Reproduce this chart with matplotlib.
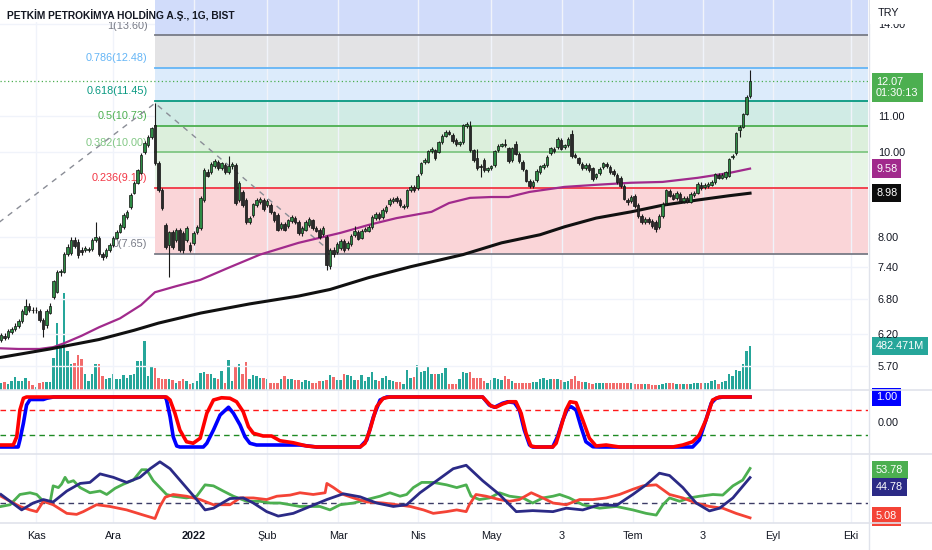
import numpy as np
import matplotlib
matplotlib.use('Agg')
import matplotlib.pyplot as plt
from matplotlib import font_manager
from matplotlib.lines import Line2D
from matplotlib.patches import Rectangle
from matplotlib.ticker import NullLocator, NullFormatter

# font: narrow sans if present, else Liberation Sans scaled down
names = {f.name for f in font_manager.fontManager.ttflist}
if 'Liberation Sans Narrow' in names:
    FONT, K = 'Liberation Sans Narrow', 1.0
else:
    FONT, K = 'Liberation Sans', 0.82
plt.rcParams['font.family'] = [FONT, 'DejaVu Sans']

# ---- daily candles (bar index 0 .. 214) ----
opens = [6.11, 6.17, 6.15, 6.24, 6.28, 6.33, 6.41, 6.54, 6.68, 6.61,
         6.60, 6.58, 6.44, 6.34, 6.56, 6.84, 6.93, 7.29, 7.30, 7.66,
         7.68, 7.94, 7.90, 7.74, 7.74, 7.74, 7.76, 7.94, 7.99, 7.66,
         7.62, 7.74, 7.84, 7.99, 8.11, 8.22, 8.44, 8.66, 8.99, 9.23,
         9.47, 10.01, 10.19, 10.41, 10.74, 9.72, 9.05, 8.26, 7.84, 8.11,
         7.94, 8.16, 8.09, 7.94, 7.84, 7.88, 8.11, 8.20, 8.82, 9.49,
         9.49, 9.64, 9.75, 9.59, 9.67, 9.49, 9.64, 9.67, 8.82, 9.01,
         8.82, 8.33, 8.48, 8.70, 8.78, 8.82, 8.70, 8.70, 8.55, 8.48,
         8.20, 8.28, 8.24, 8.35, 8.41, 8.33, 8.09, 8.16, 8.26, 8.37,
         8.20, 8.16, 8.07, 8.01, 7.42, 7.74, 7.70, 7.78, 7.92, 7.78,
         7.86, 8.05, 8.11, 7.99, 8.14, 8.14, 8.22, 8.41, 8.50, 8.44,
         8.57, 8.73, 8.80, 8.87, 8.82, 8.66, 8.68, 9.05, 9.13, 9.10,
         9.47, 9.75, 9.75, 10.03, 10.06, 10.01, 10.27, 10.44, 10.55, 10.47,
         10.33, 10.22, 10.27, 10.71, 10.71, 10.06, 9.85, 9.64, 9.80, 9.54,
         9.59, 9.67, 10.06, 10.17, 10.22, 10.11, 9.80, 10.22, 9.96, 9.75,
         9.54, 9.28, 9.15, 9.30, 9.49, 9.62, 9.67, 9.98, 10.09, 10.14,
         10.33, 10.14, 10.19, 10.50, 9.93, 9.85, 9.70, 9.59, 9.67, 9.59,
         9.37, 9.47, 9.62, 9.70, 9.62, 9.52, 9.42, 9.35, 9.15, 8.82,
         8.80, 8.92, 8.70, 8.46, 8.33, 8.39, 8.35, 8.33, 8.22, 8.46,
         8.75, 9.03, 8.94, 8.87, 8.96, 8.80, 8.87, 8.78, 8.94, 8.99,
         9.18, 9.13, 9.15, 9.18, 9.25, 9.42, 9.35, 9.37, 9.40, 9.88,
         9.98, 10.60, 10.69, 11.06, 11.59]
highs = [6.22, 6.22, 6.28, 6.32, 6.38, 6.45, 6.62, 6.79, 6.72, 6.66,
         6.66, 6.62, 6.47, 6.62, 6.72, 7.15, 7.33, 7.36, 7.70, 7.86,
         8.00, 8.01, 7.95, 7.80, 7.82, 7.80, 7.98, 8.33, 8.02, 7.70,
         7.78, 7.88, 8.02, 8.15, 8.30, 8.52, 8.60, 8.98, 9.28, 9.58,
         9.98, 10.30, 10.46, 10.70, 11.38, 9.78, 9.10, 8.30, 8.14, 8.16,
         8.20, 8.20, 8.14, 8.24, 7.90, 8.12, 8.26, 8.92, 9.60, 9.56,
         9.75, 9.82, 9.80, 9.76, 9.72, 9.90, 9.74, 9.72, 9.28, 9.05,
         8.86, 8.46, 8.76, 8.86, 8.90, 8.86, 8.84, 8.74, 8.58, 8.52,
         8.32, 8.32, 8.40, 8.48, 8.45, 8.36, 8.24, 8.36, 8.43, 8.40,
         8.24, 8.20, 8.24, 8.05, 7.78, 7.80, 7.90, 7.96, 7.96, 7.92,
         8.06, 8.24, 8.15, 8.18, 8.22, 8.26, 8.48, 8.54, 8.54, 8.63,
         8.70, 8.86, 8.90, 8.91, 8.86, 8.72, 9.08, 9.17, 9.17, 9.44,
         9.76, 9.84, 10.07, 10.13, 10.10, 10.31, 10.48, 10.60, 10.60, 10.52,
         10.37, 10.31, 10.78, 10.82, 10.85, 10.10, 10.10, 9.70, 9.84, 9.63,
         9.68, 10.07, 10.21, 10.26, 10.36, 10.15, 10.15, 10.30, 10.00, 9.79,
         9.58, 9.32, 9.29, 9.56, 9.68, 9.71, 9.92, 10.15, 10.13, 10.40,
         10.37, 10.23, 10.40, 10.60, 9.97, 9.89, 9.74, 9.71, 9.71, 9.63,
         9.48, 9.61, 9.76, 9.74, 9.66, 9.56, 9.46, 9.39, 9.19, 8.86,
         8.93, 8.96, 8.74, 8.50, 8.43, 8.43, 8.39, 8.37, 8.50, 8.77,
         9.09, 9.07, 8.98, 9.03, 9.00, 8.91, 8.91, 9.00, 9.03, 9.24,
         9.24, 9.22, 9.24, 9.29, 9.48, 9.46, 9.46, 9.53, 9.86, 9.96,
         10.56, 10.74, 11.10, 11.62, 12.41]
lows = [6.07, 6.10, 6.12, 6.20, 6.25, 6.30, 6.38, 6.52, 6.57, 6.55,
        6.55, 6.40, 6.15, 6.30, 6.53, 6.80, 6.90, 7.22, 7.28, 7.62,
        7.64, 7.78, 7.58, 7.64, 7.70, 7.70, 7.72, 7.90, 7.62, 7.54,
        7.58, 7.70, 7.80, 7.96, 8.08, 8.18, 8.40, 8.62, 8.95, 9.20,
        9.44, 9.96, 10.15, 10.36, 9.68, 9.00, 8.60, 7.76, 7.21, 7.76,
        7.90, 7.70, 7.68, 7.90, 7.70, 7.84, 8.06, 8.16, 8.78, 9.36,
        9.44, 9.60, 9.55, 9.55, 9.45, 9.45, 9.58, 8.70, 8.78, 8.66,
        8.29, 8.28, 8.44, 8.66, 8.72, 8.57, 8.65, 8.50, 8.33, 8.12,
        8.16, 8.12, 8.20, 8.31, 8.29, 8.05, 8.02, 8.12, 8.22, 8.16,
        8.10, 7.97, 8.03, 7.34, 7.36, 7.60, 7.66, 7.74, 7.70, 7.74,
        7.82, 8.01, 7.93, 7.95, 8.10, 8.10, 8.18, 8.37, 8.37, 8.40,
        8.53, 8.69, 8.76, 8.76, 8.66, 8.62, 8.64, 9.01, 9.01, 9.06,
        9.43, 9.70, 9.71, 9.99, 9.81, 9.97, 10.23, 10.40, 10.46, 10.26,
        10.18, 10.18, 10.23, 10.67, 10.02, 9.76, 9.55, 9.37, 9.50, 9.50,
        9.55, 9.63, 10.02, 10.13, 10.15, 9.73, 9.76, 9.92, 9.73, 9.53,
        9.24, 9.11, 9.10, 9.26, 9.45, 9.57, 9.63, 9.94, 9.99, 10.10,
        10.05, 10.10, 10.15, 9.86, 9.84, 9.68, 9.55, 9.55, 9.50, 9.28,
        9.33, 9.43, 9.58, 9.60, 9.45, 9.40, 9.21, 9.11, 8.81, 8.70,
        8.76, 8.64, 8.42, 8.29, 8.29, 8.29, 8.20, 8.11, 8.18, 8.42,
        8.71, 8.88, 8.81, 8.83, 8.76, 8.76, 8.74, 8.74, 8.90, 8.95,
        9.06, 9.09, 9.11, 9.14, 9.21, 9.31, 9.31, 9.33, 9.36, 9.82,
        9.94, 10.41, 10.65, 11.02, 11.55]
closes = [6.18, 6.13, 6.25, 6.28, 6.33, 6.41, 6.58, 6.68, 6.61, 6.60,
          6.61, 6.44, 6.28, 6.58, 6.68, 7.12, 7.30, 7.32, 7.66, 7.80,
          7.94, 7.82, 7.64, 7.70, 7.78, 7.76, 7.94, 8.01, 7.66, 7.60,
          7.74, 7.84, 7.99, 8.11, 8.26, 8.48, 8.55, 8.94, 9.23, 9.54,
          9.93, 10.25, 10.41, 10.66, 9.72, 9.05, 8.64, 7.80, 8.11, 7.80,
          8.16, 7.74, 7.74, 8.20, 7.74, 8.09, 8.22, 8.87, 9.54, 9.40,
          9.70, 9.77, 9.59, 9.72, 9.49, 9.64, 9.70, 8.75, 9.23, 8.70,
          8.33, 8.41, 8.73, 8.82, 8.85, 8.61, 8.80, 8.55, 8.37, 8.16,
          8.28, 8.16, 8.37, 8.44, 8.33, 8.09, 8.20, 8.33, 8.39, 8.20,
          8.14, 8.01, 8.20, 7.44, 7.74, 7.66, 7.86, 7.92, 7.74, 7.88,
          8.03, 8.14, 7.97, 8.14, 8.18, 8.22, 8.44, 8.50, 8.41, 8.59,
          8.66, 8.82, 8.85, 8.80, 8.70, 8.68, 9.05, 9.13, 9.05, 9.40,
          9.72, 9.80, 10.03, 10.09, 9.85, 10.27, 10.44, 10.55, 10.50, 10.30,
          10.22, 10.27, 10.74, 10.77, 10.06, 9.80, 9.59, 9.62, 9.54, 9.59,
          9.64, 10.03, 10.17, 10.22, 10.19, 9.77, 10.11, 9.96, 9.77, 9.57,
          9.28, 9.15, 9.25, 9.52, 9.64, 9.67, 9.88, 10.11, 10.03, 10.36,
          10.09, 10.19, 10.36, 9.90, 9.88, 9.72, 9.59, 9.67, 9.54, 9.32,
          9.44, 9.57, 9.72, 9.64, 9.49, 9.44, 9.25, 9.15, 8.85, 8.78,
          8.89, 8.68, 8.46, 8.33, 8.39, 8.33, 8.24, 8.18, 8.46, 8.73,
          9.05, 8.92, 8.85, 8.99, 8.80, 8.87, 8.78, 8.96, 8.99, 9.20,
          9.10, 9.18, 9.20, 9.25, 9.44, 9.35, 9.42, 9.49, 9.82, 9.90,
          10.52, 10.69, 11.06, 11.56, 12.07]
# volume, millions of shares
volume = [77, 88, 66, 99, 143, 99, 99, 132, 99, 55,
          33, 77, 88, 88, 88, 352, 737, 473, 1067, 429,
          286, 297, 385, 341, 176, 99, 176, 286, 286, 154,
          121, 132, 176, 121, 121, 165, 132, 165, 176, 319,
          319, 539, 154, 264, 242, 132, 121, 121, 121, 110,
          77, 99, 121, 99, 66, 77, 99, 187, 198, 176,
          176, 132, 121, 209, 77, 330, 99, 264, 286, 176,
          308, 121, 165, 154, 132, 132, 121, 77, 77, 77,
          121, 154, 121, 121, 110, 110, 88, 110, 99, 77,
          77, 99, 99, 110, 165, 143, 110, 110, 176, 165,
          154, 110, 110, 165, 99, 143, 198, 110, 99, 132,
          154, 110, 99, 88, 88, 66, 220, 132, 143, 275,
          198, 209, 253, 176, 176, 176, 187, 242, 66, 66,
          66, 121, 198, 187, 198, 132, 132, 132, 99, 77,
          110, 132, 121, 110, 154, 121, 99, 77, 77, 77,
          77, 77, 88, 88, 121, 132, 110, 121, 121, 121,
          110, 88, 99, 121, 154, 99, 88, 88, 77, 66,
          77, 77, 77, 77, 77, 77, 77, 77, 77, 77,
          77, 66, 66, 66, 66, 66, 55, 55, 55, 66,
          77, 77, 77, 66, 66, 66, 66, 66, 77, 77,
          77, 77, 77, 99, 110, 66, 88, 99, 176, 154,
          220, 209, 286, 429, 482.471]

# moving averages (read at sample bars)
ma_fast_bar = [0, 5, 11, 15, 18, 23, 28, 34, 40, 44, 50, 57, 65, 74, 85, 97, 105, 113,
               123, 128, 134, 140, 145, 151, 161, 170, 180, 189, 199, 208, 214]
ma_fast = [5.97, 5.96, 5.96, 5.99, 6.05, 6.17, 6.31, 6.46, 6.69, 6.92, 7.03, 7.15, 7.38,
           7.64, 7.88, 8.09, 8.26, 8.41, 8.55, 8.75, 8.87, 8.89, 8.89, 9.01, 9.13, 9.18,
           9.23, 9.25, 9.35, 9.47, 9.58]
ma_slow_bar = [0, 14, 28, 38, 45, 57, 71, 85, 94, 105, 117, 132, 143, 154, 161, 170,
               180, 189, 199, 208, 214]
ma_slow = [5.83, 5.96, 6.11, 6.26, 6.38, 6.55, 6.71, 6.85, 6.97, 7.19, 7.40, 7.64, 7.88,
           8.05, 8.22, 8.41, 8.55, 8.70, 8.82, 8.92, 8.98]

# fibonacci retracement
fib_ratio = ['1', '0.786', '0.618', '0.5', '0.382', '0.236', '0']
fib_price = [13.60, 12.48, 11.45, 10.73, 10.00, 9.10, 7.65]
fib_line_col = ['#787b86', '#64b5f6', '#089981', '#4caf50', '#81c784', '#f23645', '#787b86']
fib_zone_col = ['#e3e3e5', '#dcebfb', '#d0ebe5', '#dcefdc', '#e6f4e5', '#fad5d8']
fib_top_col = '#d1dcfa'
fib_start = 44
fib_path_bar = [-40, 44, 95]
fib_path_price = [6.30, 11.38, 7.65]

# stochastic RSI style oscillator
k_bar = [0, 4.9, 5.4, 6.4, 7.3, 8.3, 12.1, 13.1, 15, 46.9, 47.3, 48.3, 49.2, 50.2, 51.1,
         57.8, 58.8, 60.7, 62.6, 65, 66.4, 68.3, 69.7, 71.1, 73, 85.4, 90.2, 102.6, 104.5,
         106.4, 108.3, 110.2, 137.6, 139.5, 141, 143.3, 144.8, 146.7, 148.1, 149.5, 151,
         151.9, 157.6, 159, 160.5, 161.9, 162.9, 164.3, 165.7, 167.1, 169.1, 171, 197.6,
         199.5, 201.4, 202.9, 204.3, 206.2, 214]
k_val = [-1, -1, -0.72, -0.05, 0.68, 0.9, 0.9, 0.95, 1, 1, 0.88, 0.21, -0.59, -0.96, -1,
         -1, -0.85, -0.32, 0.28, 0.59, 0.35, -0.12, -0.59, -0.85, -0.92, -0.92, -1, -1,
         -0.72, 0.21, 0.88, 1, 1, 0.68, 0.59, 0.75, 0.81, 0.77, 0.48, -0.32, -0.92, -1, -1,
         -0.59, 0.08, 0.55, 0.61, 0.48, -0.19, -0.79, -0.99, -1, -1, -0.72, 0.08, 0.75,
         0.95, 1, 1]
d_bar = [0, 3.5, 4.5, 5.4, 6.4, 7.3, 47.3, 48.3, 49.7, 51.1, 53, 54.9, 56.9, 58.8, 60.7,
         63, 65.4, 67.3, 69.2, 70.7, 72.1, 74.9, 77.3, 79.7, 83.5, 87.3, 90.2, 102.6, 104,
         105.4, 107.3, 109.2, 111.1, 137.6, 140, 141.4, 143.3, 145.2, 147.1, 148.6, 150,
         151.4, 152.9, 157.6, 158.6, 160, 161.4, 162.6, 164.3, 166.2, 168.1, 170, 172.9,
         174.8, 176.7, 191.9, 194.8, 197.6, 199.5, 201.4, 203.3, 205.2, 214]
d_val = [-0.92, -0.92, -0.59, 0.48, 0.95, 1, 1, 0.88, 0.35, -0.32, -0.79, -0.85, -0.65,
         0.35, 0.88, 0.97, 0.95, 0.81, 0.41, -0.19, -0.45, -0.56, -0.56, -0.75, -0.83,
         -0.96, -1, -1, -0.85, -0.32, 0.61, 0.95, 1, 1, 0.64, 0.59, 0.72, 0.81, 0.81, 0.35,
         -0.45, -0.96, -1, -1, -0.85, -0.19, 0.48, 0.81, 0.77, 0.08, -0.65, -0.96, -0.92,
         -0.96, -1, -1, -0.92, -0.79, -0.52, 0.08, 0.88, 1, 1]

# DMI / ADX
pdi_bar = [0, 2.6, 5.4, 8.3, 10.2, 12.1, 14, 14.9, 16.4, 17.3, 18.3, 19.2, 20.7, 22.6,
           25.4, 28.3, 30.2, 32.6, 35, 37.8, 40.2, 41.6, 43.5, 45.4, 47.3, 49.2, 53, 55.9,
           58.3, 60.7, 63.5, 66.4, 70.2, 74, 76.9, 79.7, 82.6, 85.4, 91.1, 94, 96.9, 100.7,
           104.5, 108.3, 111.1, 114, 115.9, 117.8, 120.2, 123.5, 127.3, 130.2, 132.9,
           134.3, 136.7, 139.6, 142.4, 145.3, 149.1, 151.9, 154.8, 157.7, 159.6, 162.4,
           166.2, 171, 175.8, 180.5, 184.3, 187.2, 189.1, 191, 193.9, 196.7, 199.6, 203.4,
           206.2, 209.1, 211.9, 214]
pdi_val = [16.3, 18, 28.1, 29.8, 28.1, 21.4, 19.7, 36.6, 34.9, 38.3, 45, 40, 41.7, 34.9,
           29.8, 31.5, 28.1, 34.2, 38.3, 42.3, 52.5, 52.5, 41.7, 34.9, 28.1, 26.4, 24.7,
           26.4, 37.6, 36.6, 31.5, 26.4, 21.4, 21.4, 19.7, 19.7, 18, 16.3, 16.3, 12.9, 18,
           19.7, 23.1, 26.4, 29.8, 26.4, 28.1, 34.9, 40, 40, 37.6, 34.9, 37.6, 26.4, 23.1,
           24.7, 29.8, 26.4, 24.7, 19.7, 24.7, 26.4, 28.1, 24.7, 18, 14.6, 16.3, 12.9, 9.5,
           7.8, 18, 24.7, 21.4, 24.7, 26.4, 28.1, 27.5, 36.6, 42.3, 53.78]
mdi_bar = [0, 2.6, 5.4, 8.3, 10.2, 12.1, 14.9, 18.8, 21.6, 23.5, 27.3, 31.1, 35.9, 40.7,
           44, 45.4, 46.9, 49.2, 53, 56.9, 60.7, 65.4, 68.3, 72.1, 75.9, 78.8, 82.6, 85.4,
           89.2, 92.6, 93.1, 95, 97.8, 100.7, 104.5, 109.2, 113.1, 116.9, 120.7, 123.5,
           127.3, 130.2, 132.9, 133.8, 135.7, 138.6, 142.4, 145.3, 148.1, 151.5, 154.8,
           157.7, 161.5, 165.3, 169.1, 172.9, 176.7, 180.5, 183.4, 187.2, 191, 194.8,
           198.6, 202.4, 206.2, 210, 214]
mdi_val = [26.4, 21.4, 16.3, 12.9, 11.2, 21.4, 18, 9.5, 8.5, 11.2, 18, 16.3, 12.9, 7.8,
           4.4, 16.3, 25.4, 28.1, 26.4, 23.1, 18, 18, 24.7, 24.7, 23.1, 26.4, 27.5, 29.8,
           28.1, 29.8, 39, 34.9, 28.1, 24.7, 20.7, 19.7, 18, 16.3, 12.9, 9.5, 11.2, 12.9,
           11.2, 18, 28.1, 26.4, 23.1, 21.4, 23.1, 29.8, 24.7, 19.7, 18, 23.1, 23.1, 24.7,
           28.1, 33.2, 36.6, 37.6, 28.1, 24.7, 19.7, 16.3, 14.6, 9.5, 5.08]
adx_bar = [0, 2.6, 5.9, 9.2, 12.1, 14.9, 18.8, 22.6, 25.4, 28.3, 32.1, 35.9, 39.7, 42.6,
           45.4, 48.3, 52.1, 55.9, 58.3, 60.7, 65.4, 69.2, 72.1, 75.9, 79.2, 83.5, 88.3,
           93.1, 97.8, 102.6, 107.3, 112.1, 115.9, 119.7, 124.5, 129.2, 132.9, 137.6,
           142.4, 147.2, 151.9, 157.7, 161.5, 166.2, 171, 175.8, 180.5, 184.3, 188.1, 191,
           194.8, 198.6, 202.4, 205.3, 209.1, 214]
adx_val = [28.1, 21.4, 12.9, 19.7, 23.1, 20.7, 31.5, 39, 40, 48.4, 45, 40, 45, 53.5, 60.3,
           53.5, 38.3, 23.1, 12.9, 14.6, 24.1, 24.7, 19.7, 11.2, 6.8, 9.5, 16.3, 23.1, 28.8,
           25.8, 19.7, 16.3, 18, 29.8, 41.7, 53.5, 56.9, 41.7, 28.1, 11.2, 12.2, 11.2, 14.6,
           12.9, 18, 17.3, 28.1, 37.6, 49.1, 46.8, 34.9, 19.7, 11.9, 14.6, 24.7, 44.78]

price_ticks = [14.0, 11.0, 10.0, 8.0, 7.4, 6.8, 6.2, 5.7]
tick_pos = [10, 32, 55.1, 76, 96.3, 119.1, 140, 160.3, 180.6, 200.6, 220.6, 242.9]
tick_lbl = ['Kas', 'Ara', '2022', 'Şub', 'Mar', 'Nis', 'May', '3', 'Tem', '3', 'Eyl', 'Eki']

# ---------------------------------------------------------------
W, H = 932, 550
XMIN, XMAX = -0.286, 247.7
TXT = '#131722'
GRID = '#f0f3fa'
SEP = '#e0e3eb'
FS = 9.6 * K


def rect(top, bottom, right=868):
    return [0, (H - bottom) / H, right / W, (bottom - top) / H]


def fx(px):
    return px / W


def fy(py):
    return (H - py) / H


fig = plt.figure(figsize=(W / 100, H / 100), dpi=100)

ax_vol = fig.add_axes(rect(0, 390))
ax = fig.add_axes(rect(0, 390), sharex=ax_vol)
ax_st = fig.add_axes(rect(390, 454), sharex=ax_vol)
ax_dm = fig.add_axes(rect(454, 523), sharex=ax_vol)
ax_vol.set_zorder(0)
ax.set_zorder(1)
ax.patch.set_alpha(0)

for a in (ax_vol, ax, ax_st, ax_dm):
    for s in a.spines.values():
        s.set_visible(False)
    a.tick_params(length=0)
ax_vol.set_xlim(XMIN, XMAX)

idx = np.arange(len(closes))
o = np.array(opens)
c = np.array(closes)
hi = np.array(highs)
lo = np.array(lows)
up = c >= o

# volume
ax_vol.bar(idx, volume, width=0.74, color=np.where(up, '#26a69a', '#f26b6b'), lw=0)
ax_vol.set_ylim(0, 4280)
ax_vol.axis('off')

# main price panel
ax.set_yscale('log')
ax.set_ylim(5.35, 14.93)
for v in price_ticks:
    ax.axhline(v, color=GRID, lw=1, zorder=0.5)

ax.fill_between([fib_start, XMAX], fib_price[0], 30, color=fib_top_col, lw=0, zorder=1)
for k in range(len(fib_price) - 1):
    ax.fill_between([fib_start, XMAX], fib_price[k + 1], fib_price[k],
                    color=fib_zone_col[k], lw=0, zorder=1)
for p in tick_pos:
    ax.axvline(p, color=GRID, lw=1, zorder=1.2)
for r, p, col in zip(fib_ratio, fib_price, fib_line_col):
    ax.plot([fib_start, XMAX], [p, p], color=col, lw=1.3, zorder=1.5)
    ax.annotate(f'{r}({p:.2f})', xy=(fib_start, p), xytext=(-5.5, 7.0),
                textcoords='offset points', ha='right', va='center',
                fontsize=FS, color=col, zorder=2)

ax.plot(fib_path_bar, fib_path_price, color='#8a8d96', lw=1, ls=(0, (4, 4)), zorder=2)
ax.axhline(closes[-1], color='#4caf50', lw=0.9, ls=(0, (1, 2)), zorder=2)

ax.plot(ma_fast_bar, ma_fast, color='#a12a8c', lw=1.6, zorder=3)
ax.plot(ma_slow_bar, ma_slow, color='#111111', lw=2.2, zorder=3)

ax.vlines(idx, lo, hi, color='#1a1a1a', lw=0.8, zorder=4)
body_lo = np.minimum(o, c)
body_h = np.maximum(np.abs(c - o), 0.01)
ax.bar(idx, body_h, bottom=body_lo, width=0.7,
       color=np.where(up, '#2e8b45', '#2b2b2b'), edgecolor='#111111', lw=0.5, zorder=5)

ax.yaxis.tick_right()
ax.yaxis.set_minor_locator(NullLocator())
ax.yaxis.set_minor_formatter(NullFormatter())
ax.set_yticks(price_ticks)
ax.set_yticklabels([f'{v:.2f}' for v in price_ticks])
ax.tick_params(axis='y', pad=7, labelsize=FS, labelcolor=TXT)
ax.tick_params(axis='x', labelbottom=False)

# stochastic panel
ax_st.set_ylim(-1.28, 1.28)
for p in tick_pos:
    ax_st.axvline(p, color=GRID, lw=1, zorder=0.5)
ax_st.axhline(0.5, color='#ff1a1a', lw=1, ls=(0, (4, 3)), zorder=1)
ax_st.axhline(-0.5, color='#1f8b24', lw=1, ls=(0, (4, 3)), zorder=1)
ax_st.plot(k_bar, k_val, color='#0000ff', lw=2.6, zorder=2)
ax_st.plot(d_bar, d_val, color='#ff0000', lw=2.6, zorder=3)
ax_st.yaxis.tick_right()
ax_st.set_yticks([0])
ax_st.set_yticklabels(['0.00'])
ax_st.tick_params(axis='y', pad=7, labelsize=FS, labelcolor=TXT)
ax_st.tick_params(axis='x', labelbottom=False)

# DMI panel
ax_dm.set_ylim(0, 68)
for p in tick_pos:
    ax_dm.axvline(p, color=GRID, lw=1, zorder=0.5)
ax_dm.axhline(20, color='#3d3d66', lw=1, ls=(0, (4, 3)), zorder=1)
ax_dm.plot(pdi_bar, pdi_val, color='#4caf50', lw=2.0, zorder=2)
ax_dm.plot(mdi_bar, mdi_val, color='#f44336', lw=2.0, zorder=2)
ax_dm.plot(adx_bar, adx_val, color='#2b2a86', lw=2.0, zorder=3)
ax_dm.set_yticks([])
ax_dm.set_xticks(tick_pos)
ax_dm.set_xticklabels(tick_lbl)
ax_dm.tick_params(axis='x', pad=5.5, labelsize=9.6 * K, labelcolor=TXT)
for t in ax_dm.get_xticklabels():
    if t.get_text() == '2022':
        t.set_fontweight('bold')


# value tags on the price scale
def tag(axis, y, text, fc, dy=0.0):
    axis.annotate(text, xy=(1, y), xycoords=('axes fraction', 'data'),
                  xytext=(5.8, dy), textcoords='offset points', ha='left', va='center',
                  fontsize=FS, color='white', annotation_clip=False, zorder=10,
                  linespacing=1.1,
                  bbox=dict(boxstyle='square,pad=0.38', fc=fc, ec='none'))


tag(ax, closes[-1], f'{closes[-1]:.2f}\n01:30:13', '#4caf50', dy=-5.0)
tag(ax, ma_fast[-1], f'{ma_fast[-1]:.2f}', '#a12a8c')
tag(ax, ma_slow[-1], f'{ma_slow[-1]:.2f}', '#0c0c0c')
tag(ax_vol, volume[-1], f'{volume[-1]:.3f}M', '#26a69a')
tag(ax_st, k_val[-1], f'{k_val[-1]:.2f}', '#0000ff')
tag(ax_dm, pdi_val[-1], f'{pdi_val[-1]:.2f}', '#4caf50', dy=-1.0)
tag(ax_dm, adx_val[-1], f'{adx_val[-1]:.2f}', '#2b2a86', dy=-7.0)
tag(ax_dm, mdi_val[-1], f'{mdi_val[-1]:.2f}', '#f44336', dy=1.0)

# separators and price scale border
for py in (390, 454, 523):
    fig.add_artist(Line2D([0, 1], [fy(py), fy(py)], color=SEP, lw=1.2,
                          transform=fig.transFigure, zorder=6))
fig.add_artist(Line2D([fx(868.5), fx(868.5)], [fy(0), fy(550)], color=SEP, lw=1,
                      transform=fig.transFigure, zorder=6))

# header strip (hides the upper part of the top labels like the legend does)
fig.add_artist(Rectangle((0, fy(22)), fx(154), fy(0) - fy(22), transform=fig.transFigure,
                         fc='white', ec='none', zorder=7))
fig.add_artist(Rectangle((fx(869.5), fy(24)), fx(932 - 869.5), fy(0) - fy(24),
                         transform=fig.transFigure, fc='white', ec='none', zorder=7))
fig.text(fx(7), fy(15), 'PETKİM PETROKİMYA HOLDİNG A.Ş., 1G, BIST', ha='left', va='center',
         fontsize=9 * K, fontweight='bold', color=TXT, zorder=8)
fig.text(fx(878), fy(13), 'TRY', ha='left', va='center', fontsize=FS, color=TXT, zorder=8)

fig.savefig('out.png', dpi=100, facecolor='white')
